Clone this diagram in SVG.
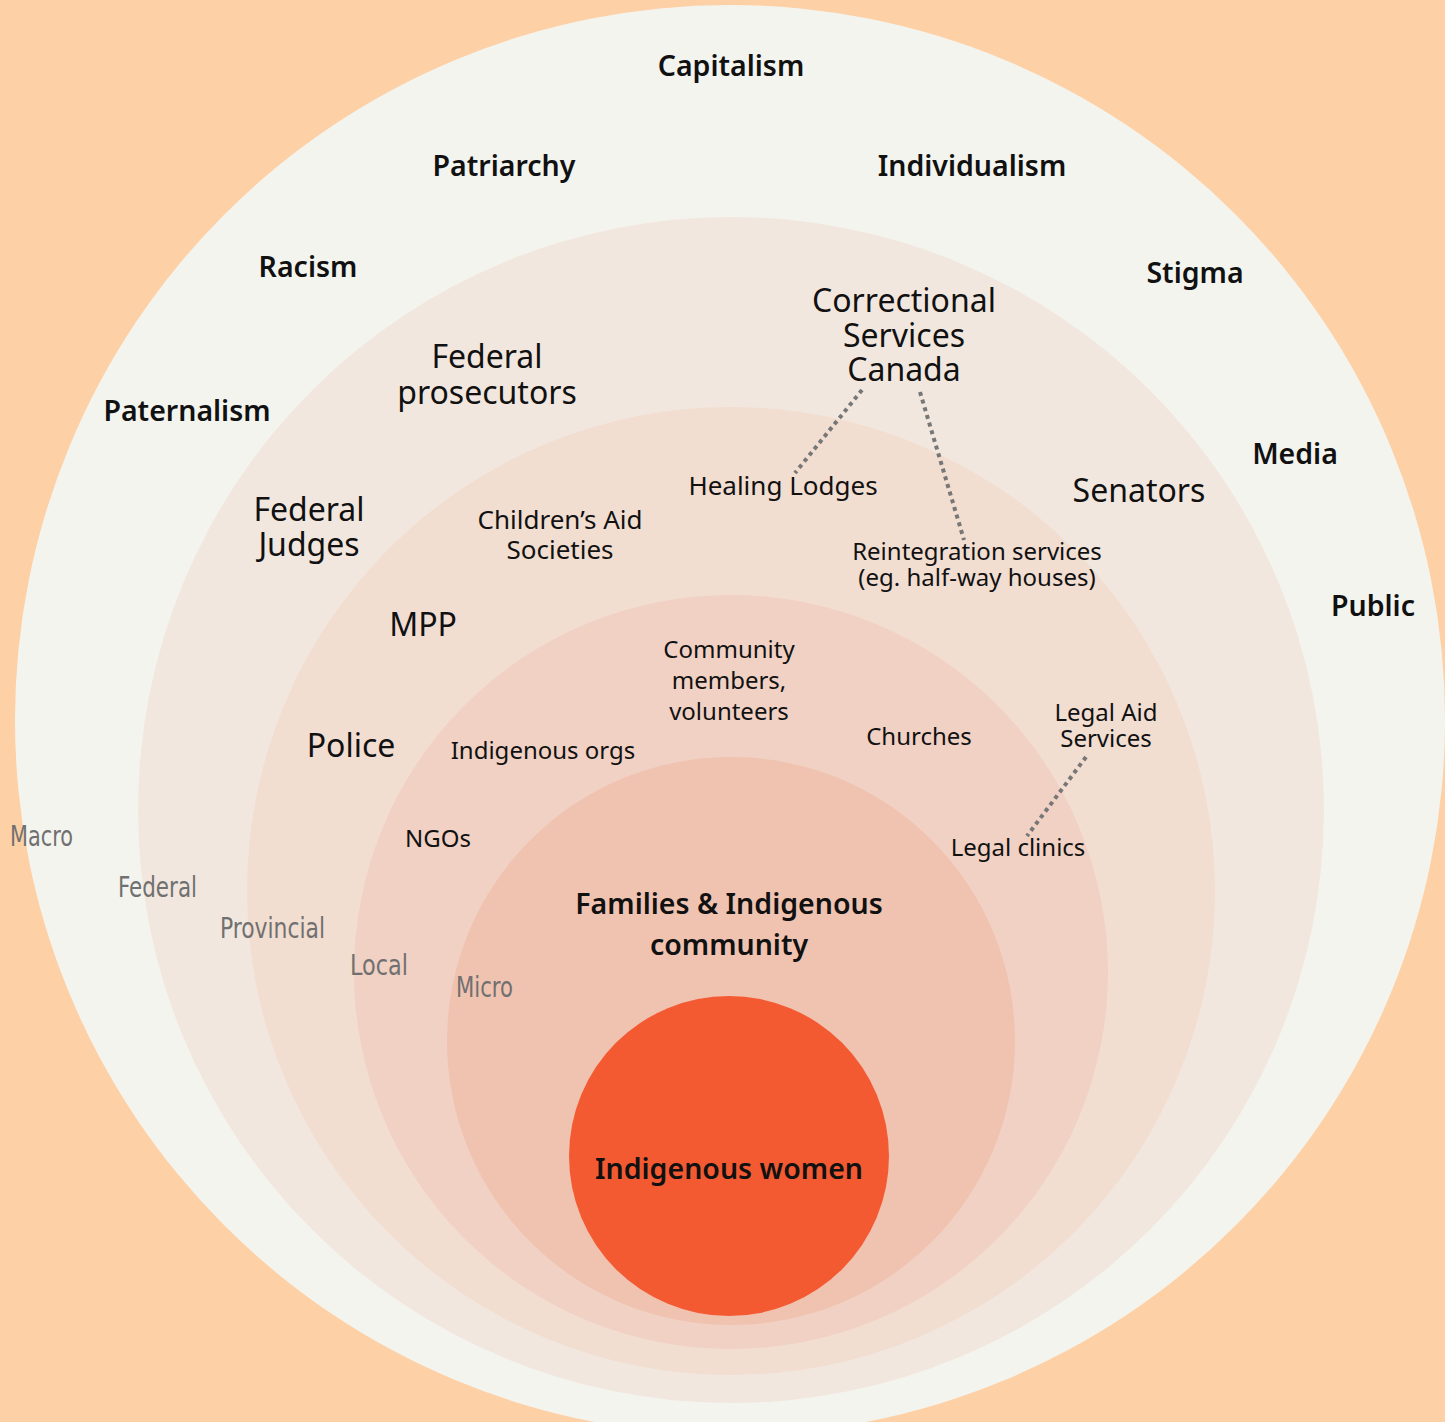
<svg xmlns="http://www.w3.org/2000/svg" width="1445" height="1422" viewBox="0 0 1445 1422">
  <style>
    .t { font-family: "Noto Sans", "Lato", sans-serif; fill: #111; text-anchor: middle; }
    .b { font-weight: 600; font-size: 28.5px; }
    .lg { font-size: 32px; }
    .md { font-size: 26px; }
    .sm { font-size: 24px; }
    .lvl { font-family: "DejaVu Sans Condensed", "DejaVu Sans", sans-serif; fill: #707070; font-size: 29px; }
    .dot { stroke: #777; stroke-width: 4; stroke-dasharray: 4 4; fill: none; }
  </style>
  <rect width="1445" height="1422" fill="#FDD0A6"/>

  <!-- nested circles, from macro out to the person at the centre -->
  <g id="rings">
    <circle id="ring-macro" cx="730" cy="720" r="715" fill="#F4F4EF"/>
    <circle id="ring-federal" cx="731" cy="810" r="593" fill="#F2E7DE"/>
    <circle id="ring-provincial" cx="731" cy="891" r="484" fill="#F2DDD1"/>
    <circle id="ring-local" cx="731" cy="972" r="377" fill="#F1D1C4"/>
    <circle id="ring-micro" cx="731" cy="1041" r="284" fill="#F0C3B1"/>
    <circle id="core" cx="729" cy="1156" r="160" fill="#F45A32"/>
  </g>

  <g id="connectors">
    <line class="dot" x1="862" y1="390" x2="795" y2="473"/>
    <line class="dot" x1="920" y1="392" x2="964" y2="540"/>
    <line class="dot" x1="1086" y1="757" x2="1027" y2="836"/>
  </g>

  <g id="level-labels">
    <text class="lvl" x="10" y="846" textLength="63" lengthAdjust="spacingAndGlyphs">Macro</text>
    <text class="lvl" x="118" y="897" textLength="79" lengthAdjust="spacingAndGlyphs">Federal</text>
    <text class="lvl" x="220" y="938" textLength="105" lengthAdjust="spacingAndGlyphs">Provincial</text>
    <text class="lvl" x="350" y="975" textLength="58" lengthAdjust="spacingAndGlyphs">Local</text>
    <text class="lvl" x="456" y="997" textLength="57" lengthAdjust="spacingAndGlyphs">Micro</text>
  </g>

  <g id="macro-forces">
    <text id="capitalism" class="t b" x="731" y="76">Capitalism</text>
    <text id="patriarchy" class="t b" x="504" y="176">Patriarchy</text>
    <text id="individualism" class="t b" x="972" y="176">Individualism</text>
    <text id="racism" class="t b" x="308" y="277">Racism</text>
    <text id="stigma" class="t b" x="1195" y="283">Stigma</text>
    <text id="paternalism" class="t b" x="187" y="421">Paternalism</text>
    <text id="media" class="t b" x="1295" y="464">Media</text>
    <text id="public" class="t b" x="1373" y="616">Public</text>
  </g>

  <g id="federal-actors">
    <g id="csc">
      <text class="t lg" x="904" y="312">Correctional</text>
      <text class="t lg" x="904" y="347">Services</text>
      <text class="t lg" x="904" y="381">Canada</text>
    </g>
    <g id="federal-prosecutors">
      <text class="t lg" x="487" y="368">Federal</text>
      <text class="t lg" x="487" y="404">prosecutors</text>
    </g>
    <g id="federal-judges">
      <text class="t lg" x="309" y="521">Federal</text>
      <text class="t lg" x="309" y="556">Judges</text>
    </g>
    <text id="senators" class="t lg" x="1139" y="502">Senators</text>
  </g>

  <g id="provincial-actors">
    <text id="healing-lodges" class="t md" x="783" y="495">Healing Lodges</text>
    <g id="childrens-aid">
      <text class="t md" x="560" y="529">Children’s Aid</text>
      <text class="t md" x="560" y="559">Societies</text>
    </g>
    <g id="reintegration">
      <text class="t sm" x="977" y="560">Reintegration services</text>
      <text class="t sm" x="977" y="586">(eg. half-way houses)</text>
    </g>
    <text id="mpp" class="t lg" x="423" y="636">MPP</text>
    <text id="police" class="t lg" x="351" y="757">Police</text>
  </g>

  <g id="local-actors">
    <g id="community-members">
      <text class="t sm" x="729" y="658">Community</text>
      <text class="t sm" x="729" y="689">members,</text>
      <text class="t sm" x="729" y="720">volunteers</text>
    </g>
    <text id="indigenous-orgs" class="t sm" x="543" y="759">Indigenous orgs</text>
    <text id="churches" class="t sm" x="919" y="745">Churches</text>
    <g id="legal-aid">
      <text class="t sm" x="1106" y="721">Legal Aid</text>
      <text class="t sm" x="1106" y="747">Services</text>
    </g>
    <text id="ngos" class="t sm" x="438" y="847">NGOs</text>
    <text id="legal-clinics" class="t sm" x="1018" y="856">Legal clinics</text>
  </g>

  <g id="families">
    <text class="t b" x="729" y="914">Families &amp; Indigenous</text>
    <text class="t b" x="729" y="955">community</text>
  </g>

  <g id="indigenous-women">
    <text class="t b" x="729" y="1179">Indigenous women</text>
  </g>
</svg>
